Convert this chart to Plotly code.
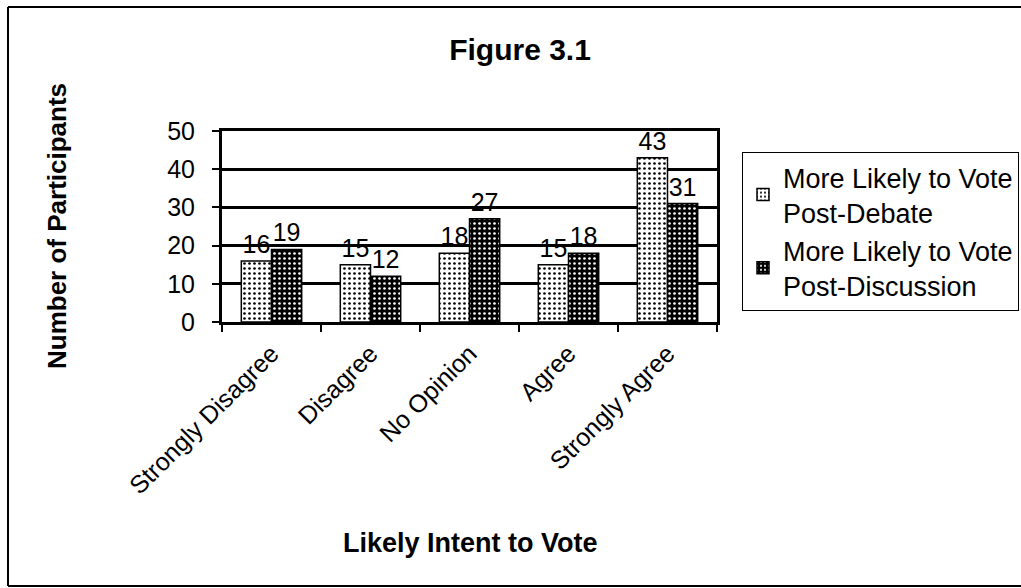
import plotly.graph_objects as go

# Survey responses: likely intent to vote
categories = ["Strongly Disagree", "Disagree", "No Opinion", "Agree", "Strongly Agree"]
post_debate = [16, 15, 18, 15, 43]
post_discussion = [19, 12, 27, 18, 31]
series_names = ["More Likely to Vote<br>Post-Debate", "More Likely to Vote<br>Post-Discussion"]
y_ticks = [0, 10, 20, 30, 40, 50]

FONT = "Liberation Sans, Arial, sans-serif"

# plot-area geometry in pixels (used to place paper-referenced decorations)
W, H = 1021, 588
L, R, T, B = 222, 304, 131, 266
PW, PH = W - L - R, H - T - B


def px_x(px):
    return (px - L) / PW


def px_y(py):
    return (H - B - py) / PH


fig = go.Figure()

fig.add_trace(go.Bar(
    name=series_names[0],
    x=categories,
    y=post_debate,
    text=[str(v) for v in post_debate],
    textposition="outside",
    constraintext="none",
    cliponaxis=False,
    textfont=dict(family=FONT, size=25, color="black"),
    marker=dict(
        color="white",
        line=dict(color="black", width=1.5),
        pattern=dict(shape=".", fillmode="replace", bgcolor="white",
                     fgcolor="black", size=5, solidity=0.22),
    ),
))

fig.add_trace(go.Bar(
    name=series_names[1],
    x=categories,
    y=post_discussion,
    text=[str(v) for v in post_discussion],
    textposition="outside",
    constraintext="none",
    cliponaxis=False,
    textfont=dict(family=FONT, size=25, color="black"),
    marker=dict(
        color="black",
        line=dict(color="black", width=1.5),
        pattern=dict(shape=".", fillmode="replace", bgcolor="black",
                     fgcolor="white", size=5, solidity=0.22),
    ),
))

fig.update_layout(
    width=W,
    height=H,
    margin=dict(l=L, r=R, t=T, b=B, autoexpand=False),
    paper_bgcolor="white",
    plot_bgcolor="white",
    font=dict(family=FONT, color="black"),
    barmode="group",
    bargap=0.39,
    bargroupgap=0,
    showlegend=True,
    title=dict(
        text="<b>Figure 3.1</b>",
        font=dict(family=FONT, size=30, color="black"),
        x=520 / W, xref="container", xanchor="center",
        y=1 - 49 / H, yref="container", yanchor="middle",
    ),
    legend=dict(
        x=px_x(742), y=px_y(152), xanchor="left", yanchor="top",
        bordercolor="black", borderwidth=1, bgcolor="white",
        font=dict(family=FONT, size=27, color="black"),
        tracegroupgap=2,
        itemwidth=30,
    ),
)

fig.update_xaxes(
    type="category",
    showline=True, linecolor="black", linewidth=3, mirror=True,
    ticks="outside", tickson="boundaries", ticklen=7, tickwidth=1.5, tickcolor="black",
    tickangle=-45,
    tickfont=dict(family=FONT, size=25, color="black"),
    ticklabelstandoff=4,
    showgrid=False,
)

fig.update_yaxes(
    range=[0, 50],
    tickvals=y_ticks,
    showline=True, linecolor="black", linewidth=3, mirror=True,
    showgrid=True, gridcolor="black", gridwidth=3,
    ticks="outside", ticklen=7, tickwidth=1.5, tickcolor="black",
    tickfont=dict(family=FONT, size=25, color="black"),
    ticklabelstandoff=12,
    zeroline=False,
)

# axis titles
fig.add_annotation(
    text="<b>Number of Participants</b>", textangle=-90,
    xref="paper", yref="paper", x=px_x(57), y=px_y(226),
    xanchor="center", yanchor="middle", showarrow=False,
    font=dict(family=FONT, size=26, color="black"),
)
fig.add_annotation(
    text="<b>Likely Intent to Vote</b>",
    xref="paper", yref="paper", x=px_x(470), y=px_y(543),
    xanchor="center", yanchor="middle", showarrow=False,
    font=dict(family=FONT, size=27, color="black"),
)

# chart-area frame: left, top and bottom edges (right edge lies off the page)
frame_style = dict(color="black", width=2)
for x0, y0, x1, y1 in [(8, 7, 8, 586), (8, 7, 1100, 7), (8, 586, 1100, 586)]:
    fig.add_shape(
        type="line", xref="paper", yref="paper",
        x0=px_x(x0), y0=px_y(y0), x1=px_x(x1), y1=px_y(y1),
        line=frame_style, layer="below",
    )

fig.write_html("out.html")
